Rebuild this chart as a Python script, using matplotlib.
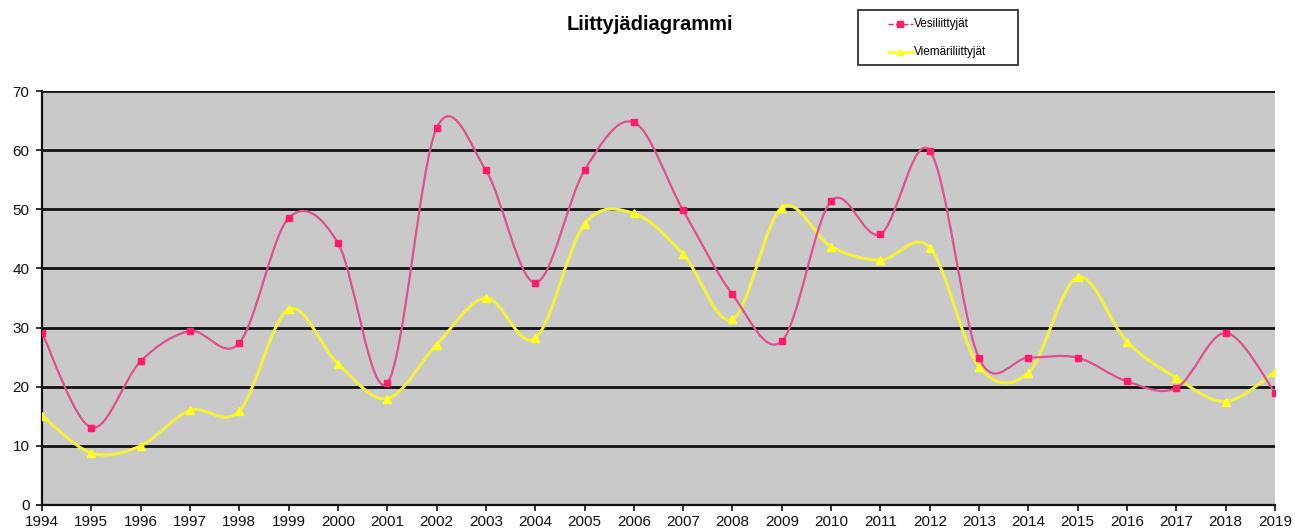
import numpy as np
import matplotlib
matplotlib.use("Agg")
import matplotlib.pyplot as plt
from matplotlib.path import Path
from matplotlib.patches import PathPatch, Rectangle
from matplotlib.lines import Line2D

years = list(range(1994, 2020))
vesi = [29.1, 13.1, 24.3, 29.4, 27.4, 48.5, 44.3, 20.6, 63.7, 56.6, 37.6, 56.6, 64.7,
        49.8, 35.6, 27.7, 51.4, 45.8, 59.9, 24.8, 24.9, 24.9, 20.9, 19.8, 29.1, 19.0]
viemari = [15.1, 8.8, 10.0, 16.0, 15.9, 33.1, 23.9, 18.0, 27.1, 35.0, 28.2, 47.5, 49.3,
           42.4, 31.4, 50.3, 43.7, 41.4, 43.5, 23.4, 22.4, 38.5, 27.6, 21.5, 17.5, 22.5]
yticks = [0, 10, 20, 30, 40, 50, 60, 70]
series_names = ['Vesiliittyjät', 'Viemäriliittyjät']

plt.rcParams['font.family'] = ['Liberation Sans', 'DejaVu Sans']

W, H = 1295, 532
fig = plt.figure(figsize=(W / 100, H / 100), dpi=100)
ax = fig.add_axes([42 / W, 27 / H, (1275 - 42) / W, (505 - 91) / H])
ax.set_facecolor('#c9c9c9')


def smooth_path(x, y):
    x = np.asarray(x, float)
    y = np.asarray(y, float)
    n = len(x)
    verts = [(x[0], y[0])]
    codes = [Path.MOVETO]
    for i in range(n - 1):
        p0 = (x[i - 1], y[i - 1]) if i > 0 else (x[i], y[i])
        p1 = (x[i], y[i])
        p2 = (x[i + 1], y[i + 1])
        p3 = (x[i + 2], y[i + 2]) if i + 2 < n else (x[i + 1], y[i + 1])
        c1 = (p1[0] + (p2[0] - p0[0]) / 6, p1[1] + (p2[1] - p0[1]) / 6)
        c2 = (p2[0] - (p3[0] - p1[0]) / 6, p2[1] - (p3[1] - p1[1]) / 6)
        verts += [c1, c2, p2]
        codes += [Path.CURVE4] * 3
    return Path(verts, codes)


for yv in yticks[1:]:
    ax.axhline(yv, color='#111111', lw=2.0, zorder=1)

pink_line = '#e0508c'
pink_mark = '#ff1a6a'
yel_line = '#f2f23a'
yel_mark = '#ffff20'

ax.add_patch(PathPatch(smooth_path(years, vesi), fill=False, edgecolor=pink_line, lw=1.6, zorder=3))
ax.add_patch(PathPatch(smooth_path(years, viemari), fill=False, edgecolor=yel_line, lw=2.2, zorder=2))
ax.plot(years, vesi, ls='none', marker='s', ms=5, color=pink_mark, zorder=4)
ax.plot(years, viemari, ls='none', marker='^', ms=6, color=yel_mark, zorder=4)

ax.set_xlim(1994, 2019)
ax.set_ylim(0, 70)
ax.set_yticks(yticks)
ax.set_xticks(years)
ax.set_xticklabels([str(y) for y in years])
ax.tick_params(axis='both', labelsize=11, colors='#111111', direction='out', length=4, width=1.2)
ax.tick_params(axis='x', pad=3)
ax.tick_params(axis='y', pad=5)

for s in ['top', 'right']:
    ax.spines[s].set_visible(False)
for s in ['left', 'bottom']:
    ax.spines[s].set_color('#111111')
    ax.spines[s].set_linewidth(1.6)

fig.text(650 / W, 1 - 25 / H, 'Liittyjädiagrammi', ha='center', va='center',
         fontsize=14.5, fontweight='bold')

# legend box drawn manually to match the reference placement
fig.patches.append(Rectangle((858 / W, 1 - 65 / H), 160 / W, 55 / H, transform=fig.transFigure,
                             facecolor='white', edgecolor='#333333', lw=1.3))
leg_styles = [(pink_mark, '--', 's', 4, 1.0, 24), (yel_mark, '-', '^', 5, 2.0, 52)]
for name, (c, ls, mk, ms, lw, yy) in zip(series_names, leg_styles):
    fy = 1 - yy / H
    fig.add_artist(Line2D([888 / W, 913 / W], [fy, fy], transform=fig.transFigure,
                          color=c, ls=ls, lw=lw))
    fig.add_artist(Line2D([900 / W], [fy], transform=fig.transFigure, color=c,
                          marker=mk, ms=ms, ls='none'))
    fig.text(914 / W, fy, name, ha='left', va='center', fontsize=8.5)

fig.savefig('out.png', dpi=100, facecolor='white')
